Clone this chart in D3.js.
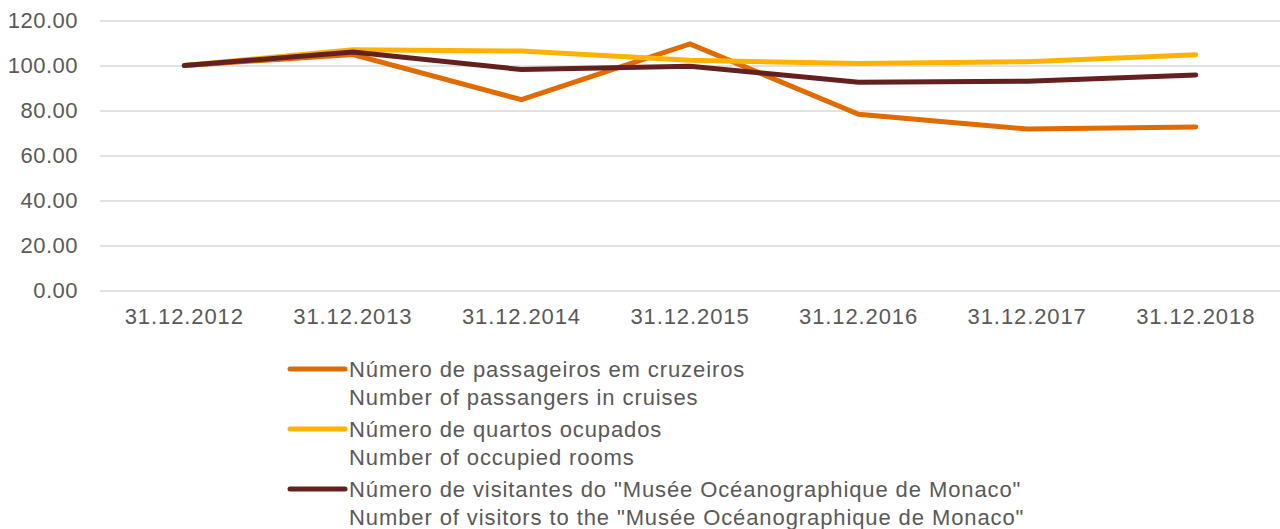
<!DOCTYPE html>
<html>
<head>
<meta charset="utf-8">
<script src="https://cdn.jsdelivr.net/npm/d3@7"></script>
<style>
  body { margin: 0; background: #fff; }
  text { font-family: "Liberation Sans", Arial, sans-serif; fill: #595959; }
</style>
</head>
<body>
<svg id="chart" width="1280" height="529"></svg>
<script>
// Data
const dates = ["31.12.2012", "31.12.2013", "31.12.2014", "31.12.2015", "31.12.2016", "31.12.2017", "31.12.2018"];
const cruisePassengers = [100, 104.9, 84.8, 109.6, 78.3, 71.8, 72.7];
const occupiedRooms = [100, 107.0, 106.4, 102.3, 100.9, 101.7, 104.8];
const museumVisitors = [100, 106.0, 98.2, 99.7, 92.6, 93.0, 95.8];
const yTicks = [0, 20, 40, 60, 80, 100, 120];
const seriesNames = [
    ["Número de passageiros em cruzeiros", "Number of passangers in cruises"],
    ["Número de quartos ocupados", "Number of occupied rooms"],
    ["Número de visitantes do \"Musée Océanographique de Monaco\"", "Number of visitors to the \"Musée Océanographique de Monaco\""]
];
const seriesColors = ["#e06c00", "#ffb300", "#63201e"];

const svg = d3.select("#chart"),
    margin = { top: 20.5, right: 0, bottom: 238.5, left: 100 },
    width = +svg.attr("width"),
    height = +svg.attr("height"),
    chartWidth = width - margin.left - margin.right,
    chartHeight = height - margin.top - margin.bottom;

const series = [cruisePassengers, occupiedRooms, museumVisitors];

const chart = svg.append("g")
    .attr("transform", `translate(${margin.left},${margin.top})`);

// Scales
const x = d3.scaleBand()
    .domain(dates)
    .range([0, chartWidth]);

const y = d3.scaleLinear()
    .domain([0, 120])
    .range([chartHeight, 0]);

// Gridlines + y labels
const yAxis = chart.append("g")
    .call(d3.axisLeft(y).tickValues(yTicks).tickSize(-chartWidth).tickPadding(22).tickFormat(d3.format(".2f")));
yAxis.select(".domain").remove();
yAxis.selectAll("line").attr("stroke", "#d9d9d9").attr("stroke-width", 1.5);
yAxis.selectAll("text")
    .style("font-size", "22px")
    .style("letter-spacing", "0.5px")
    .style("fill", "#595959")
    .style("font-family", "Liberation Sans, Arial, sans-serif");

// x labels
const xAxis = chart.append("g")
    .attr("transform", `translate(0,${chartHeight})`)
    .call(d3.axisBottom(x).tickSize(0).tickPadding(18));
xAxis.select(".domain").remove();
xAxis.selectAll("text")
    .style("font-size", "22px")
    .style("letter-spacing", "0.9px")
    .style("fill", "#595959")
    .style("font-family", "Liberation Sans, Arial, sans-serif");

// Lines
const line = d3.line()
    .x((d, i) => x(dates[i]) + x.bandwidth() / 2)
    .y(d => y(d));

series.forEach((values, i) => {
    chart.append("path")
        .datum(values)
        .attr("fill", "none")
        .attr("stroke", seriesColors[i])
        .attr("stroke-width", 5)
        .attr("stroke-linecap", "round")
        .attr("stroke-linejoin", "miter")
        .attr("d", line);
});

// Legend
const legend = svg.append("g")
    .attr("transform", "translate(290, 369)");

seriesNames.forEach((names, i) => {
    const g = legend.append("g").attr("transform", `translate(0, ${i * 60})`);
    g.append("line")
        .attr("x1", 0).attr("x2", 55)
        .attr("y1", 0).attr("y2", 0)
        .attr("stroke", seriesColors[i])
        .attr("stroke-width", 5)
        .attr("stroke-linecap", "round");
    names.forEach((t, j) => {
        g.append("text")
            .attr("x", 59)
            .attr("y", 8 + j * 28)
            .style("font-size", "22px")
            .style("letter-spacing", "0.9px")
            .text(t);
    });
});
</script>
</body>
</html>
